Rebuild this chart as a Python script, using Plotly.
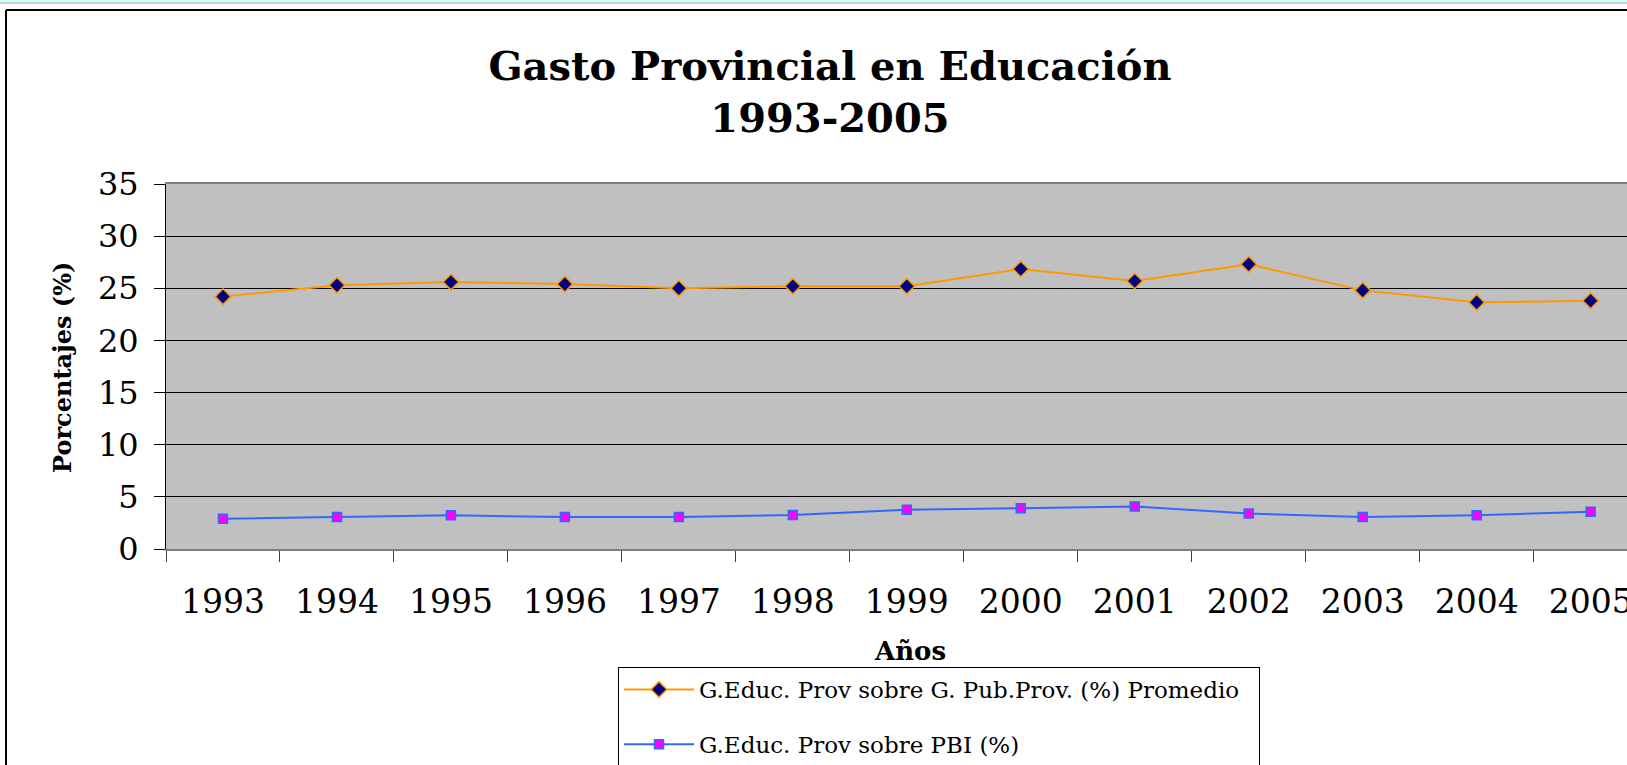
import plotly.graph_objects as go

years = ["1993", "1994", "1995", "1996", "1997", "1998", "1999",
         "2000", "2001", "2002", "2003", "2004", "2005"]
gasto_publico = [24.2, 25.3, 25.6, 25.4, 25.0, 25.2, 25.2,
                 26.85, 25.7, 27.3, 24.8, 23.65, 23.8]
gasto_pbi = [2.9, 3.07, 3.23, 3.07, 3.07, 3.26, 3.77,
             3.9, 4.08, 3.4, 3.07, 3.23, 3.58]

name_a = "G.Educ. Prov sobre G. Pub.Prov. (%) Promedio"
name_b = "G.Educ. Prov sobre PBI (%)"

W, H = 1627, 765
L, T, B = 166, 184, 549

def px(x):
    return (x - L) / (W - L)

def py(y):
    return (B - y) / (B - T)

fig = go.Figure()
fig.add_trace(go.Scatter(
    x=years, y=gasto_publico, name=name_a + "&nbsp;&nbsp;", mode="lines+markers",
    line=dict(color="#FF9900", width=2),
    marker=dict(symbol="diamond", size=12, color="#000080",
                line=dict(color="#FF9900", width=1.5)),
    legendgroup="a"))
fig.add_trace(go.Scatter(
    x=years, y=gasto_pbi, name=name_b, mode="lines+markers",
    line=dict(color="#3366FF", width=2),
    marker=dict(symbol="square", size=9, color="#FF00FF",
                line=dict(color="#3366FF", width=1.5)),
    legendgroup="b"))

serif = "DejaVu Serif"

# frame decorations
shapes = [
    dict(type="rect", xref="paper", yref="paper", x0=px(0), x1=px(W),
         y0=py(0), y1=py(2), fillcolor="#CCFFFF", line=dict(width=0), layer="below"),
    dict(type="line", xref="paper", yref="paper", x0=px(0), x1=px(W),
         y0=py(3), y1=py(3), line=dict(color="#A0A0A0", width=1)),
    dict(type="line", xref="paper", yref="paper", x0=px(6), x1=px(W),
         y0=py(10), y1=py(10), line=dict(color="black", width=2)),
    dict(type="line", xref="paper", yref="paper", x0=px(6), x1=px(6),
         y0=py(10), y1=py(H), line=dict(color="black", width=2)),
]

fig.update_layout(
    width=W, height=H,
    margin=dict(l=L, r=0, t=T, b=H - B, pad=0, autoexpand=False),
    paper_bgcolor="white", plot_bgcolor="#C0C0C0",
    title=dict(text="<b>Gasto Provincial en Educación<br>1993-2005</b>",
               x=830 / W, xanchor="center", xref="container",
               y=1 - 80 / H, yanchor="middle", yref="container",
               font=dict(family=serif, size=40, color="black")),
    xaxis=dict(type="category", range=[-0.5, 12.319], tickson="boundaries",
               ticks="outside", ticklen=11, tickcolor="#404040", tickwidth=1,
               showline=True, linecolor="#808080", linewidth=2, mirror=True,
               showgrid=False, ticklabelstandoff=22, tickangle=0,
               tickfont=dict(family=serif, size=33, color="black")),
    yaxis=dict(range=[0, 35], dtick=5, tick0=0, ticks="outside", ticklen=11,
               tickcolor="black", showline=True, linecolor="black", linewidth=1,
               showgrid=True, gridcolor="black", gridwidth=1, zeroline=False,
               ticklabelstandoff=9,
               tickfont=dict(family=serif, size=32, color="black")),
    legend=dict(x=618 / W, y=1 - 667 / H, xref="container", yref="container",
                xanchor="left", yanchor="top", bgcolor="white",
                bordercolor="black", borderwidth=1, tracegroupgap=22,
                itemwidth=70,
                font=dict(family=serif, size=23, color="black")),
    annotations=[
        dict(text="<b>Años</b>", xref="paper", yref="paper",
             x=px(910), y=py(651), xanchor="center", yanchor="middle",
             showarrow=False, font=dict(family=serif, size=26, color="black")),
        dict(text="<b>Porcentajes (%)</b>", xref="paper", yref="paper",
             x=px(62), y=py(367), xanchor="center", yanchor="middle",
             textangle=-90, showarrow=False,
             font=dict(family=serif, size=24, color="black")),
    ],
    shapes=shapes,
    showlegend=True,
)

fig.write_html("out.html", config={"displayModeBar": False},
               post_script="document.body.style.margin='0';document.body.style.overflow='hidden';")
